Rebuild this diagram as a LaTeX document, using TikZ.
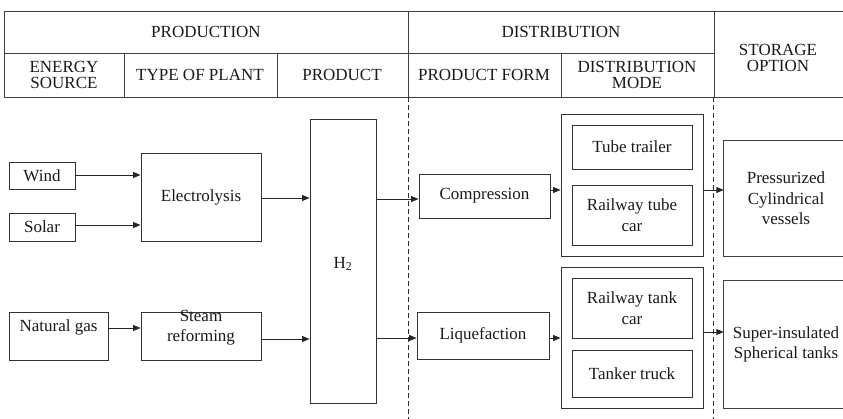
\documentclass[tikz,border=0pt]{standalone}
\usepackage{fontspec}
\setmainfont{Liberation Serif}
\usetikzlibrary{arrows.meta}
\begin{document}
\begin{tikzpicture}[x=1pt,y=-1pt,
  every node/.style={font=\fontsize{17}{20.5}\selectfont, text=black!90, inner sep=0pt},
  box/.style={draw=black!80, line width=0.9pt, align=center},
  hdr/.style={align=center, font=\fontsize{17}{15.5}\selectfont},
  grid/.style={draw=black!75, line width=0.9pt},
  sep/.style={draw=black!80, line width=0.8pt, dash pattern=on 5pt off 3pt},
  arr/.style={draw=black!85, line width=0.9pt, -{Triangle[length=7.5pt,width=6pt]}}]
\useasboundingbox (0,0) rectangle (843,419);
% header grid
\draw[grid] (4,11) -- (843,11);
\draw[grid] (4,53) -- (714,53);
\draw[grid] (4,97) -- (843,97);
\draw[grid] (4,11) -- (4,97);
\draw[grid] (408,11) -- (408,97);
\draw[grid] (714,11) -- (714,97);
\draw[grid] (124,53) -- (124,97);
\draw[grid] (277,53) -- (277,97);
\draw[grid] (561,53) -- (561,97);
\node[hdr] (hprod) at (206,32) {PRODUCTION};
\node[hdr] (hdist) at (561,32) {DISTRIBUTION};
\node[hdr] (hstor) at (778,58) {STORAGE\\OPTION};
\node[hdr] (hes) at (64,75) {ENERGY\\SOURCE};
\node[hdr] (htp) at (200,75) {TYPE OF PLANT};
\node[hdr] (hpr) at (342,75) {PRODUCT};
\node[hdr] (hpf) at (484,75) {PRODUCT FORM};
\node[hdr] (hdm) at (637,75) {DISTRIBUTION\\MODE};
% dashed separators
\draw[sep] (408,97) -- (408,419);
\draw[sep] (713,97) -- (713,419);
% production
\node[box, minimum width=66pt, minimum height=27pt] (wind) at (42,175.5) {Wind};
\node[box, minimum width=66pt, minimum height=28pt] (solar) at (42,227) {Solar};
\node[box, minimum width=120pt, minimum height=88pt] (elec) at (201,197) {Electrolysis};
\node[box, minimum width=99pt, minimum height=48pt] (ng) at (58.5,336) {};
\node (ngt) at (58.5,327) {Natural gas};
\node[box, minimum width=120pt, minimum height=48pt] (steam) at (201,336) {};
\node[align=center] (steamt) at (201,327.5) {Steam\\reforming};
\node[box, minimum width=66pt, minimum height=284pt] (h2) at (343,261) {};
\node (h2t) at (343,264) {H\textsubscript{2}};
% distribution
\node[box, minimum width=131pt, minimum height=44pt] (comp) at (484.5,196) {Compression};
\node[box, minimum width=132pt, minimum height=47pt] (liq) at (483,335.5) {Liquefaction};
\node[box, minimum width=142pt, minimum height=142pt] (o1) at (632,185) {};
\node[box, minimum width=120pt, minimum height=44pt] (tube) at (632,147) {Tube trailer};
\node[box, minimum width=120pt, minimum height=60pt] (rtube) at (632,215) {Railway tube\\car};
\node[box, minimum width=142pt, minimum height=141pt] (o2) at (632,337.5) {};
\node[box, minimum width=120pt, minimum height=60pt] (rtank) at (632,308) {Railway tank\\car};
\node[box, minimum width=120pt, minimum height=47pt] (truck) at (632,373.5) {Tanker truck};
% storage (open to the right edge)
\node[align=center, minimum width=119pt, minimum height=115pt] (s1) at (783.5,198.5) {\hspace*{5pt}Pressurized\\\hspace*{5pt}Cylindrical\\\hspace*{5pt}vessels};
\draw[grid] (s1.north east) -- (s1.north west) -- (s1.south west) -- (s1.south east);
\node[align=center, minimum width=119pt, minimum height=127pt] (s2) at (783.5,344.5) {\hspace*{5pt}Super-insulated\\\hspace*{5pt}Spherical tanks};
\draw[grid] (s2.north east) -- (s2.north west) -- (s2.south west) -- (s2.south east);
% connectors
\draw[arr] ([yshift=0.5pt]wind.east) -- ([yshift=0.5pt]wind.east -| elec.west);
\draw[arr] ([yshift=2pt]solar.east) -- ([yshift=2pt]solar.east -| elec.west);
\draw[arr] ([yshift=-1pt]elec.east) -- ([yshift=-1pt]elec.east -| h2.west);
\draw[arr] ([yshift=8pt]ng.east) -- ([yshift=8pt]ng.east -| steam.west);
\draw[arr] ([yshift=-3pt]steam.east) -- ([yshift=-3pt]steam.east -| h2.west);
\coordinate (c1) at ([yshift=-3pt]comp.west);
\draw[arr] (c1 -| h2.east) -- (c1);
\coordinate (c2) at ([yshift=-2.5pt]liq.west);
\draw[arr] (c2 -| h2.east) -- (c2);
\draw[arr] ([yshift=6pt]comp.east) -- ([yshift=6pt]comp.east -| o1.west);
\draw[arr] ([yshift=-2.5pt]liq.east) -- ([yshift=-2.5pt]liq.east -| o2.west);
\draw[arr] ([yshift=-5pt]o1.east) -- ([yshift=-5pt]o1.east -| s1.west);
\draw[arr] ([yshift=5.5pt]o2.east) -- ([yshift=5.5pt]o2.east -| s2.west);
\end{tikzpicture}
\end{document}
